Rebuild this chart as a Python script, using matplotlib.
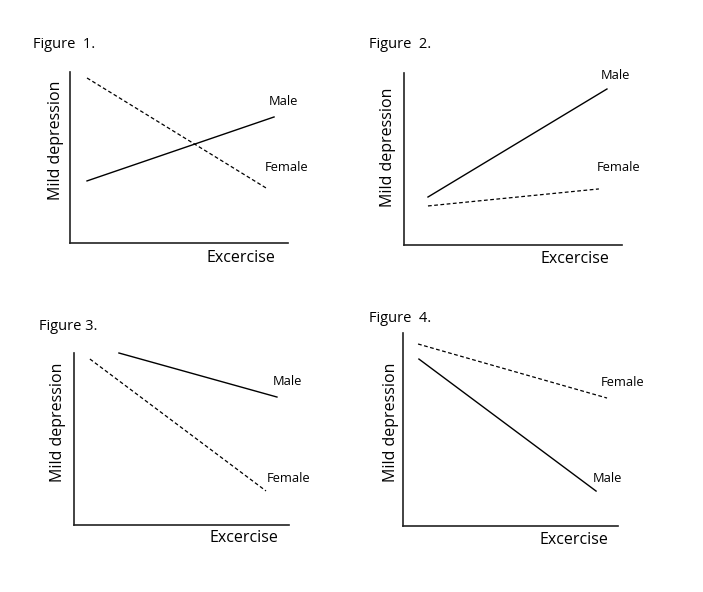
import matplotlib.pyplot as plt

plt.rcParams['font.family'] = ['Open Sans', 'DejaVu Sans']

W, H = 703, 592

# line endpoints per panel, in 0-10 units: (x0, x1), (y0, y1)
male_x = [(0.78, 9.36), (1.10, 9.31), (2.09, 9.44), (0.74, 8.98)]
male_y = [(3.63, 7.37), (2.79, 9.07), (10.0, 7.44), (8.65, 1.81)]
female_x = [(0.78, 8.99), (1.10, 8.94), (0.74, 8.93), (0.70, 9.49)]
female_y = [(9.65, 3.22), (2.27, 3.26), (9.65, 1.98), (9.43, 6.63)]
titles = ['Figure  1.', 'Figure  2.', 'Figure 3.', 'Figure  4.']

# layout in pixels: axes box (left, right, top, bottom)
boxes = [(70, 288, 72, 243), (404, 622, 73, 245), (74, 289, 353, 525), (403, 618, 333, 526)]
male_lbl = [(9.77, 8.30), (9.72, 9.83), (9.95, 8.37), (9.53, 2.44)]
female_lbl = [(9.95, 4.44), (9.86, 4.48), (10.0, 2.73), (10.23, 7.46)]
title_pos = [(33, 45), (369, 45), (39, 326), (369, 319)]
xlab_pos = [(241, 258), (575, 259), (244, 538), (574, 540)]
ylab_pos = [(56, 140), (388, 147), (58, 422), (391, 422)]

fig = plt.figure(figsize=(W / 100, H / 100), dpi=100)

def fx(x):
    return x / W

def fy(y):
    return 1 - y / H

for i in range(4):
    l, r, t, b = boxes[i]
    ax = fig.add_axes([fx(l), fy(b), (r - l) / W, (b - t) / H])
    ax.set_xlim(0, 10)
    ax.set_ylim(0, 10)
    for s in ['top', 'right']:
        ax.spines[s].set_visible(False)
    for s in ['left', 'bottom']:
        ax.spines[s].set_linewidth(1.2)
        ax.spines[s].set_color('#222222')
    ax.set_xticks([])
    ax.set_yticks([])
    ax.patch.set_alpha(0)

    ax.plot(male_x[i], male_y[i], color='black', lw=1.0, clip_on=False)
    ax.plot(female_x[i], female_y[i], color='black', lw=0.9, dashes=(3, 2), clip_on=False)

    ax.text(*male_lbl[i], 'Male', fontsize=9.3, ha='center', va='center', clip_on=False)
    ax.text(*female_lbl[i], 'Female', fontsize=9.3, ha='center', va='center', clip_on=False)

    fig.text(fx(title_pos[i][0]), fy(title_pos[i][1]), titles[i], fontsize=10.5, ha='left', va='center')
    fig.text(fx(xlab_pos[i][0]), fy(xlab_pos[i][1]), 'Excercise', fontsize=11.5, ha='center', va='center')
    fig.text(fx(ylab_pos[i][0]), fy(ylab_pos[i][1]), 'Mild depression', fontsize=11.5,
             ha='center', va='center', rotation=90)

fig.savefig('out.png', dpi=100, facecolor='white')
